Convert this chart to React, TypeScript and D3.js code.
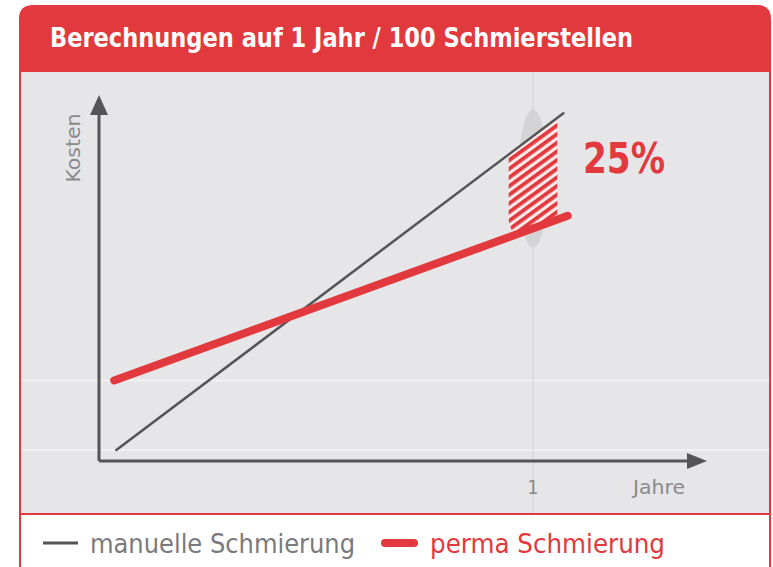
import React, { useEffect } from "react";
import * as d3 from "d3";

// values (years on x, relative cost 0..100 on y)
const manualYears = [0.04, 1.07];
const manualCost = [3, 95];
const permaYears = [0.035, 1.08];
const permaCost = [22, 67];
const gridCosts = [3, 22];
const xTicks = [1];
const hatchYears = [0.944, 1.056];
const savingLabel = "25%";
const title = "Berechnungen auf 1 Jahr / 100 Schmierstellen";
const legendLabels = ["manuelle Schmierung", "perma Schmierung"];

const W = 773;
const H = 567;
const RED = "#e1393e";
const DARK = "#555558";
const BG = "#e6e6e8";
const FONT = "'Liberation Sans Narrow', 'DejaVu Sans Condensed', 'Roboto', sans-serif";

const x = d3.scaleLinear().domain([0, 1]).range([99, 533]);
const y = d3.scaleLinear().domain([0, 100]).range([461, 95]);

const toPts = (xs: number[], ys: number[]): [number, number][] =>
  xs.map((v, i) => [v, ys[i]] as [number, number]);

const line = d3
  .line<[number, number]>()
  .x((d) => x(d[0]))
  .y((d) => y(d[1]));

// value of a straight series at a given year
const at = (xs: number[], ys: number[], t: number) =>
  d3.scaleLinear().domain(xs).range(ys)(t);

export default function App() {
  useEffect(() => {
    document.body.style.margin = "0";
  }, []);

  const manual = toPts(manualYears, manualCost);
  const perma = toPts(permaYears, permaCost);

  // region between the two lines over the hatch span
  const [h0, h1] = hatchYears;
  const hatchPoly: [number, number][] = [
    [h0, at(manualYears, manualCost, h0)],
    [h1, at(manualYears, manualCost, h1)],
    [h1, at(permaYears, permaCost, h1)],
    [h0, at(permaYears, permaCost, h0)],
  ];
  const hatchPath = line.curve(d3.curveLinearClosed)(hatchPoly) || "";
  line.curve(d3.curveLinear);

  const cx = x(1);
  const top = y(manualCost[1]);
  const bottom = y(permaCost[1]);
  const axisX = x(0);
  const axisY = y(0);

  return (
    <svg width={W} height={H} style={{ display: "block" }} fontFamily={FONT}>
      <defs>
        <pattern
          id="hatch"
          patternUnits="userSpaceOnUse"
          width={8}
          height={7}
          patternTransform="rotate(-36)"
        >
          <rect width={8} height={7} fill="#fbe9ea" />
          <rect width={8} height={3.8} fill={RED} />
        </pattern>
        <clipPath id="oval">
          <ellipse cx={cx} cy={(top + bottom) / 2 + 6} rx={31} ry={82} />
        </clipPath>
      </defs>

      {/* card */}
      <path
        d={`M19,567 V19 Q19,5 33,5 H757 Q771,5 771,19 V567 Z`}
        fill={RED}
      />
      <rect x={21} y={72} width={748} height={441} fill={BG} />
      <rect x={21} y={515} width={748} height={52} fill="#fff" />
      <text
        x={50}
        y={47}
        fill="#fff"
        fontSize={26}
        fontWeight="bold"
        textLength={583}
        lengthAdjust="spacingAndGlyphs"
      >
        {title}
      </text>

      {/* grid */}
      {gridCosts.map((c) => (
        <line key={c} x1={21} x2={769} y1={y(c)} y2={y(c)} stroke="#f4f4f5" strokeWidth={1.5} />
      ))}
      {xTicks.map((t) => (
        <line key={t} x1={x(t)} x2={x(t)} y1={72} y2={513} stroke="#d2d2d4" strokeWidth={1} />
      ))}

      {/* highlight */}
      <ellipse cx={cx} cy={(top + bottom) / 2 + 14} rx={15} ry={69} fill="#d4d4d6" />
      <path d={hatchPath} fill="url(#hatch)" clipPath="url(#oval)" />

      {/* axes */}
      <line x1={axisX} x2={axisX} y1={axisY} y2={112} stroke={DARK} strokeWidth={3} />
      <path d={`M${axisX},95 L${axisX - 9},115 L${axisX + 9},115 Z`} fill={DARK} />
      <line x1={axisX} x2={690} y1={axisY} y2={axisY} stroke={DARK} strokeWidth={3} />
      <path d={`M707,${axisY} L687,${axisY - 8} L687,${axisY + 8} Z`} fill={DARK} />

      {/* series */}
      <path d={line(manual) || ""} fill="none" stroke={DARK} strokeWidth={2.5} strokeLinecap="round" />
      <path d={line(perma) || ""} fill="none" stroke={RED} strokeWidth={8} strokeLinecap="round" />

      {/* labels */}
      <text
        transform={`translate(80,148) rotate(-90)`}
        textAnchor="middle"
        fill="#8a8a8c"
        fontSize={20}
        textLength={69}
        lengthAdjust="spacingAndGlyphs"
      >
        Kosten
      </text>
      {xTicks.map((t) => (
        <text key={t} x={x(t)} y={494} textAnchor="middle" fill="#8a8a8c" fontSize={20}>
          {t}
        </text>
      ))}
      <text
        x={633}
        y={494}
        fill="#8a8a8c"
        fontSize={20}
        textLength={52}
        lengthAdjust="spacingAndGlyphs"
      >
        Jahre
      </text>
      <text
        x={583}
        y={173}
        fill={RED}
        fontSize={43}
        fontWeight="bold"
        textLength={82}
        lengthAdjust="spacingAndGlyphs"
      >
        {savingLabel}
      </text>

      {/* legend */}
      <line x1={43} x2={78} y1={543} y2={543} stroke={DARK} strokeWidth={3} />
      <text
        x={90}
        y={553}
        fill="#7a7a7c"
        fontSize={26}
        textLength={265}
        lengthAdjust="spacingAndGlyphs"
      >
        {legendLabels[0]}
      </text>
      <line x1={385} x2={414} y1={543} y2={543} stroke={RED} strokeWidth={8} strokeLinecap="round" />
      <text
        x={430}
        y={553}
        fill={RED}
        fontSize={26}
        textLength={235}
        lengthAdjust="spacingAndGlyphs"
      >
        {legendLabels[1]}
      </text>
    </svg>
  );
}
